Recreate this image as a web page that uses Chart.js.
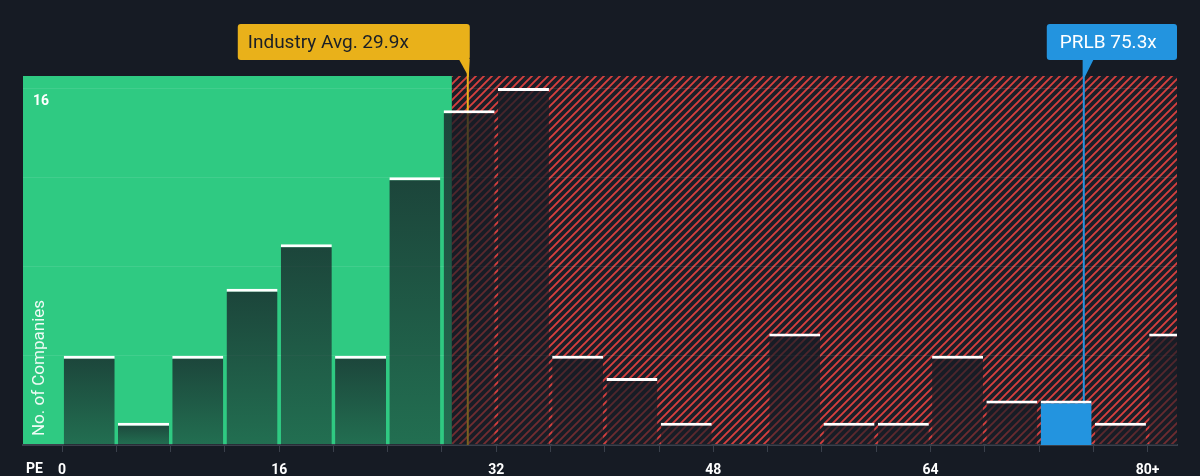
<!DOCTYPE html>
<html>
<head>
<meta charset="utf-8">
<script src="https://cdn.jsdelivr.net/npm/chart.js@4/dist/chart.umd.min.js"></script>
<style>
  html, body { margin: 0; padding: 0; background: #161b24; }
  #wrap { position: relative; width: 1200px; height: 476px; }
</style>
</head>
<body>
<div id="wrap"><canvas id="pe"></canvas></div>
<script>
// PE distribution: bins of 4x, last bin is 80+.
const binStarts = [0, 4, 8, 12, 16, 20, 24, 28, 32, 36, 40, 44, 48, 52, 56, 60, 64, 68, 72, 76, 80];
const companyCounts = [4, 1, 4, 7, 9, 4, 12, 15, 16, 4, 3, 1, 0, 5, 1, 1, 4, 2, 2, 1, 5];
const xTickValues = [0, 16, 32, 48, 64, 80];
const xTickLabels = ['0', '16', '32', '48', '64', '80+'];
const yGridValues = [4, 8, 12, 16];
const yLabelValue = 16;
const industryAvg = 29.9;
const companyPE = 75.3;
const companyName = 'PRLB';
const fairEnd = 28.73;   // end of the green band
const highlightBin = 72; // bin that holds PRLB

const GREEN = '#2fca82';
const RED = '#d6403f';
const GOLD = '#e9b11a';
const BLUE = '#2394df';
const FONT = 'Roboto, "Open Sans", sans-serif';

function hatchPattern(ctx) {
  const c = document.createElement('canvas');
  c.width = 8; c.height = 8;
  const p = c.getContext('2d');
  p.fillStyle = '#1b1f28';
  p.fillRect(0, 0, 8, 8);
  p.strokeStyle = RED;
  p.lineWidth = 1.9;
  p.beginPath();
  p.moveTo(-2, 10); p.lineTo(10, -2);
  p.moveTo(-6, 6); p.lineTo(6, -6);
  p.moveTo(2, 14); p.lineTo(14, 2);
  p.stroke();
  return ctx.createPattern(c, 'repeat');
}

function barFill(context) {
  const chart = context.chart;
  const i = context.dataIndex;
  if (binStarts[i] === highlightBin) return BLUE;
  const y = chart.scales.y;
  if (!y || !chart.chartArea) return 'rgba(22,27,36,0.65)';
  const top = y.getPixelForValue(companyCounts[i]);
  const bot = y.getPixelForValue(0);
  if (!(bot > top)) return 'rgba(22,27,36,0.65)';
  const g = chart.ctx.createLinearGradient(0, top, 0, bot);
  g.addColorStop(0, 'rgba(22,27,36,0.76)');
  g.addColorStop(1, 'rgba(22,27,36,0.52)');
  return g;
}

const backdrop = {
  id: 'backdrop',
  beforeDraw(chart) {
    const { ctx, chartArea: a, scales: { x } } = chart;
    const split = x.getPixelForValue(fairEnd);
    ctx.save();
    ctx.fillStyle = GREEN;
    ctx.fillRect(a.left, a.top, split - a.left, a.bottom - a.top);
    ctx.fillStyle = hatchPattern(ctx);
    ctx.fillRect(split, a.top, a.right - split, a.bottom - a.top);
    ctx.restore();
  },
  beforeDatasetsDraw(chart) {
    const { ctx, chartArea: a, scales: { x } } = chart;
    ctx.save();
    ctx.lineWidth = 2;
    ctx.strokeStyle = GOLD;
    const xi = x.getPixelForValue(industryAvg);
    ctx.beginPath(); ctx.moveTo(xi, 60); ctx.lineTo(xi, a.bottom); ctx.stroke();
    ctx.strokeStyle = BLUE;
    const xc = x.getPixelForValue(companyPE);
    ctx.beginPath(); ctx.moveTo(xc, 60); ctx.lineTo(xc, a.bottom); ctx.stroke();
    ctx.restore();
  },
  afterDraw(chart) {
    const { ctx, chartArea: a, scales: { x, y } } = chart;
    ctx.save();
    // top tick label
    ctx.fillStyle = '#ffffff';
    ctx.font = 'bold 14px ' + FONT;
    ctx.textBaseline = 'middle';
    ctx.textAlign = 'left';
    ctx.fillText(String(yLabelValue), 33, y.getPixelForValue(yLabelValue) + 13);
    // axis names
    ctx.fillText('PE', 26, 469);
    ctx.save();
    ctx.translate(40, 368);
    ctx.rotate(-Math.PI / 2);
    ctx.textAlign = 'center';
    ctx.font = '17px ' + FONT;
    ctx.fillStyle = 'rgba(255,255,255,0.92)';
    ctx.fillText('No. of Companies', 0, 0);
    ctx.restore();

    // industry callout
    const xi = x.getPixelForValue(industryAvg);
    ctx.fillStyle = GOLD;
    ctx.beginPath();
    ctx.roundRect(xi - 230, 24, 232, 36, 3);
    ctx.fill();
    ctx.beginPath();
    ctx.moveTo(xi - 9, 59); ctx.lineTo(xi + 2, 59); ctx.lineTo(xi + 1, 77);
    ctx.closePath(); ctx.fill();
    ctx.fillStyle = '#1a1f27';
    ctx.font = '19px ' + FONT;
    ctx.textAlign = 'left';
    ctx.fillText('Industry Avg. ' + industryAvg + 'x', xi - 220, 43);

    // company callout
    const xc = x.getPixelForValue(companyPE);
    ctx.fillStyle = BLUE;
    ctx.beginPath();
    ctx.roundRect(xc - 37, 24, a.right - (xc - 37), 36, 3);
    ctx.fill();
    ctx.beginPath();
    ctx.moveTo(xc - 1, 59); ctx.lineTo(xc + 10, 59); ctx.lineTo(xc + 1, 77); ctx.lineTo(xc - 1, 77);
    ctx.closePath(); ctx.fill();
    ctx.fillStyle = '#ffffff';
    ctx.fillText(companyName + ' ' + companyPE + 'x', xc - 24, 43);
    ctx.restore();
  }
};

new Chart(document.getElementById('pe'), {
  type: 'bar',
  data: {
    datasets: [{
      data: binStarts.map((b, i) => ({ x: b + 2, y: companyCounts[i] })),
      backgroundColor: barFill,
      borderColor: '#ffffff',
      borderWidth: { top: 3, right: 0, bottom: 0, left: 0 },
      borderSkipped: 'start',
      categoryPercentage: 1,
      barPercentage: 0.94,
    }],
  },
  options: {
    responsive: true,
    maintainAspectRatio: false,
    animation: false,
    layout: { padding: { left: 23, right: 23, top: 76, bottom: 0 } },
    plugins: { legend: { display: false }, tooltip: { enabled: false } },
    scales: {
      x: {
        type: 'linear',
        offset: false,
        min: -2.88,
        max: 82.17,
        afterBuildTicks: s => { s.ticks = binStarts.map(v => ({ value: v })); },
        afterFit: s => { s.height = 31; },
        ticks: {
          autoSkip: false,
          maxRotation: 0,
          padding: 10,
          color: '#ffffff',
          font: { family: FONT, size: 14, weight: 'bold' },
          callback: v => { const k = xTickValues.indexOf(v); return k >= 0 ? xTickLabels[k] : ''; },
        },
        grid: { offset: false, drawOnChartArea: false, drawTicks: true, tickLength: 7, tickColor: '#3a404b', lineWidth: 1 },
        border: { display: true, color: '#3a404b', width: 2 },
      },
      y: {
        min: 0,
        max: 16.54,
        afterBuildTicks: s => { s.ticks = yGridValues.map(v => ({ value: v })); },
        afterFit: s => { s.width = 0; },
        ticks: { display: false },
        grid: { color: 'rgba(255,255,255,0.09)', drawTicks: false, lineWidth: 1 },
        border: { display: false },
      },
    },
  },
  plugins: [backdrop],
});
</script>
</body>
</html>
